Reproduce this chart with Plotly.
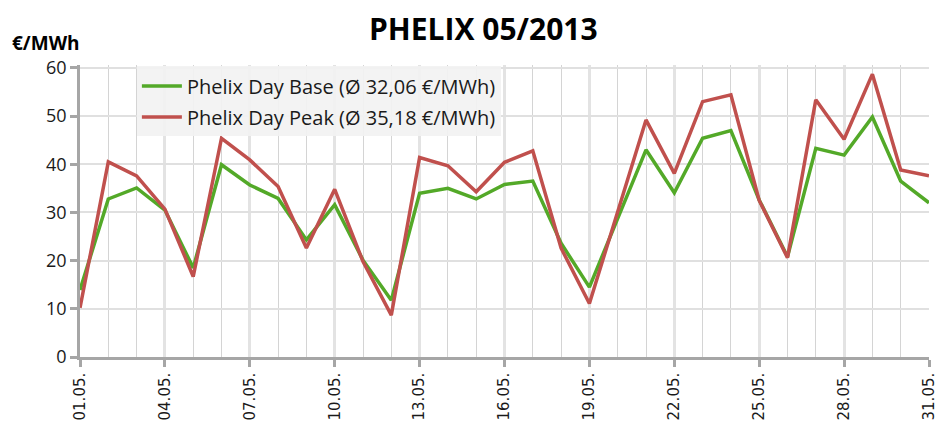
import plotly.graph_objects as go

days = list(range(1, 32))
tick_days = [1, 4, 7, 10, 13, 16, 19, 22, 25, 28, 31]
tick_labels = ["01.05.", "04.05.", "07.05.", "10.05.", "13.05.", "16.05.",
               "19.05.", "22.05.", "25.05.", "28.05.", "31.05."]

base = [13.9, 32.8, 35.1, 30.5, 18.5, 39.9, 35.7, 32.9, 24.3, 31.6,
        20.1, 11.8, 34.0, 35.0, 32.8, 35.8, 36.5, 23.6, 14.5, 28.6,
        43.0, 34.1, 45.4, 47.0, 32.6, 20.8, 43.3, 41.9, 49.8, 36.5, 32.0]
peak = [10.2, 40.5, 37.6, 30.7, 16.7, 45.4, 40.9, 35.4, 22.6, 34.8,
        19.8, 8.7, 41.4, 39.7, 34.3, 40.4, 42.8, 22.6, 11.1, 30.4,
        49.2, 38.1, 53.0, 54.4, 32.5, 20.6, 53.4, 45.2, 58.7, 38.8, 37.6]

fig = go.Figure()
fig.add_trace(go.Scatter(x=days, y=base, mode="lines",
                         name="Phelix Day Base (Ø 32,06 €/MWh)", legendgroup="a",
                         line=dict(color="#53a928", width=3.5)))
fig.add_trace(go.Scatter(x=days, y=peak, mode="lines",
                         name="Phelix Day Peak (Ø 35,18 €/MWh)", legendgroup="b",
                         line=dict(color="#c0504d", width=3.5)))

fig.update_layout(
    width=944, height=429,
    margin=dict(l=72, r=23, t=57, b=80),
    paper_bgcolor="white", plot_bgcolor="white",
    font=dict(family="Open Sans", color="#1a1a1a"),
    showlegend=True,
    legend=dict(x=0.067, y=0.995, xanchor="left", yanchor="top",
                bgcolor="rgba(242,242,242,0.92)", borderwidth=0,
                font=dict(size=20, family="Open Sans", color="#1a1a1a"),
                traceorder="grouped", tracegroupgap=2, itemwidth=40),
    annotations=[
        dict(text="<b>PHELIX 05/2013</b>", xref="paper", yref="paper",
             x=0.475, y=1.126, xanchor="center", yanchor="middle",
             showarrow=False,
             font=dict(size=30, family="Open Sans", color="black")),
        dict(text="<b>€/MWh</b>", xref="paper", yref="paper",
             x=-0.083, y=1.025, xanchor="left", yanchor="bottom",
             showarrow=False,
             font=dict(size=19, family="Open Sans", color="black")),
    ],
)

fig.update_xaxes(
    range=[1, 31], tickmode="array", tickvals=tick_days, ticktext=tick_labels,
    tickangle=-90, tickfont=dict(size=15, family="DejaVu Sans", color="#1a1a1a"),
    showline=True, linecolor="#a6a6a6", linewidth=2.5,
    ticks="outside", ticklen=7, tickcolor="#a6a6a6", tickwidth=2.5,
    showgrid=True, gridcolor="#e3e3e3", gridwidth=2.5,
    minor=dict(dtick=1, tick0=1, showgrid=True, gridcolor="#d4d4d4", gridwidth=1),
    zeroline=False,
)
fig.update_yaxes(
    range=[0, 60.6], tickmode="array", tickvals=[0, 10, 20, 30, 40, 50, 60],
    tickfont=dict(size=18, family="Open Sans", color="#1a1a1a"),
    showline=True, linecolor="#a6a6a6", linewidth=2.5,
    ticks="outside", ticklen=7, tickcolor="#a6a6a6", tickwidth=2.5,
    showgrid=True, gridcolor="#e0e0e0", gridwidth=1.5,
    zeroline=False,
)

fig.write_html("out.html")
